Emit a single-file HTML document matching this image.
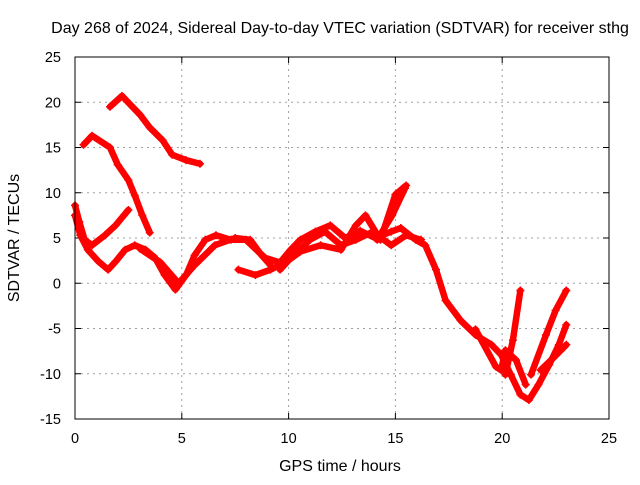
<!DOCTYPE html>
<html><head><meta charset="utf-8"><style>
body{margin:0;background:#fff}
svg text{font-family:"Liberation Sans",sans-serif;font-size:14.5px;fill:#000}
svg text.big{font-size:16px}
</style></head><body>
<svg id="chart" width="640" height="480">
<rect width="640" height="480" fill="#fff"/>
<text class="big" x="340" y="33" text-anchor="middle">Day 268 of 2024, Sidereal Day-to-day VTEC variation (SDTVAR) for receiver sthg</text>
<text class="big" x="340" y="471" text-anchor="middle">GPS time / hours</text>
<text class="big" transform="translate(19,238) rotate(-90)" text-anchor="middle">SDTVAR / TECUs</text>
<g id="grid"></g><g id="ticks"></g><g id="series"></g>
<rect x="75" y="57" width="534" height="362" fill="none" stroke="#000" stroke-width="1"/>
</svg>
<script>
const xTicks=[0,5,10,15,20,25];
const yTicks=[-15,-10,-5,0,5,10,15,20,25];
const trackA_h=[1.64,2.2,3.05,3.5,4.1,4.55,5.2,5.85];
const trackA_v=[19.5,20.7,18.6,17.2,15.8,14.2,13.6,13.2];
const trackB_h=[0.4,0.8,1.64,2.0,2.5,2.8,3.15,3.5];
const trackB_v=[15.3,16.3,15,13.1,11.4,9.7,7.5,5.6];
const trackC_h=[0,0.2,0.45,0.8,1.4,1.9,2.5];
const trackC_v=[8.6,6.8,4.8,4.2,5.3,6.4,8.1];
const trackD_h=[0,0.25,0.6,1.1,1.55,1.9,2.35,2.8,3.3,3.75,4.2,4.7,5.2,5.6,6.1,6.6,7.3,8.0,8.4,8.9,9.6,10.1,10.55,11.25,11.95,12.65,13.35,14.05,14.8,15.25,15.95,16.4,16.9,17.35,18.05,18.75,19.5,19.95,20.4,20.85,21.25,21.7,22.2,22.65,23.0];
const trackD_v=[7.5,5.3,3.7,2.4,1.5,2.4,3.7,4.2,3.7,2.8,0.9,-0.7,0.9,3.1,4.8,5.3,4.8,4.8,3.9,2.8,2.3,3.7,4.8,5.7,6.4,5.0,5.8,5.0,5.7,6.1,4.8,4.2,1.5,-1.9,-4.1,-5.7,-6.8,-7.9,-10.1,-12.3,-12.9,-11.2,-9.0,-6.8,-4.6];
const trackE_h=[18.75,19.7,19.95,20.15,20.65,21.1];
const trackE_v=[-5.1,-9.2,-9.6,-7.4,-8.5,-11.2];
const trackF_h=[20.15,20.5,20.85];
const trackF_v=[-10.1,-6.3,-0.8];
const trackG_h=[21.35,22.05,22.5,23.0];
const trackG_v=[-10.1,-5.7,-3.0,-0.8];
const trackH_h=[21.8,22.5,23.0];
const trackH_v=[-9.6,-8.0,-6.8];
const trackI_h=[7.65,8.45,9.15,9.85,10.55,11.5,12.45,13.15,13.6,14.3,15.0,15.5];
const trackI_v=[1.5,0.9,1.5,2.3,3.5,4.2,3.7,6.4,7.5,4.8,9.8,10.8];
const trackJ_h=[14.15,14.85,15.45];
const trackJ_v=[4.8,7.5,10.5];
const trackK_h=[3.05,4.0,4.85,5.6,6.55,7.5,8.2,8.7,9.15];
const trackK_v=[3.8,2.3,0.0,2.0,4.2,5.0,4.8,3.2,2.0];
const trackL_h=[9.6,10.1,11,11.7,12.45,13.15,13.95,14.8,15.5,16.2];
const trackL_v=[1.5,2.8,4.8,5.7,4.2,4.8,5.7,4.2,5.3,4.8];

const NS="http://www.w3.org/2000/svg";
const X0=75,X1=609,Y0=419,Y1=57;
function xs(h){return X0+(h-0)/(25-0)*(X1-X0);}
function ys(v){return Y0-(v+15)/(40)*(Y0-Y1);}
function mk(t,a,p){const e=document.createElementNS(NS,t);for(const k in a)e.setAttribute(k,a[k]);p.appendChild(e);return e;}
const grid=document.getElementById('grid'),ticks=document.getElementById('ticks'),ser=document.getElementById('series');
xTicks.forEach(t=>{const x=xs(t);
 if(t>0&&t<25){const g=mk('line',{x1:x,x2:x,y1:Y0,y2:Y1,stroke:'#a0a0a0','stroke-dasharray':'2,4'},grid);
 
 }
 mk('line',{x1:x,x2:x,y1:Y0,y2:Y0-6,stroke:'#000'},ticks);mk('line',{x1:x,x2:x,y1:Y1,y2:Y1+6,stroke:'#000'},ticks);
 const tx=mk('text',{x:x,y:443,'text-anchor':'middle'},ticks);tx.textContent=t;
 
 });
yTicks.forEach(t=>{const y=ys(t);
 if(t>-15&&t<25){const g=mk('line',{x1:X0,x2:X1,y1:y,y2:y,stroke:'#a0a0a0','stroke-dasharray':'2,4'},grid);
 
 }
 mk('line',{x1:X0,x2:X0+6,y1:y,y2:y,stroke:'#000'},ticks);mk('line',{x1:X1,x2:X1-6,y1:y,y2:y,stroke:'#000'},ticks);
 const tx=mk('text',{x:61,y:y+5,'text-anchor':'end'},ticks);tx.textContent=t;
 
 });
const tracks=[[trackA_h,trackA_v],[trackB_h,trackB_v],[trackC_h,trackC_v],[trackD_h,trackD_v],[trackE_h,trackE_v],[trackF_h,trackF_v],[trackG_h,trackG_v],[trackH_h,trackH_v],[trackI_h,trackI_v],[trackJ_h,trackJ_v],[trackK_h,trackK_v],[trackL_h,trackL_v]];
tracks.forEach((tr,i)=>{const pts=tr[0].map((h,j)=>xs(h)+','+ys(tr[1][j])).join(' ');
 const pl=mk('polyline',{points:pts,fill:'none',stroke:'#ff0000','stroke-width':6.5,'stroke-linejoin':'round','stroke-linecap':'round'},ser);
 
 
 tr[0].forEach((h,j)=>{const x=xs(h),y=ys(tr[1][j]);
  const m=mk('path',{d:`M${x-4},${y}H${x+4}M${x},${y-4}V${y+4}`,stroke:'#ff0000','stroke-width':1.5},ser);
  
  });});
</script>
</body></html>
